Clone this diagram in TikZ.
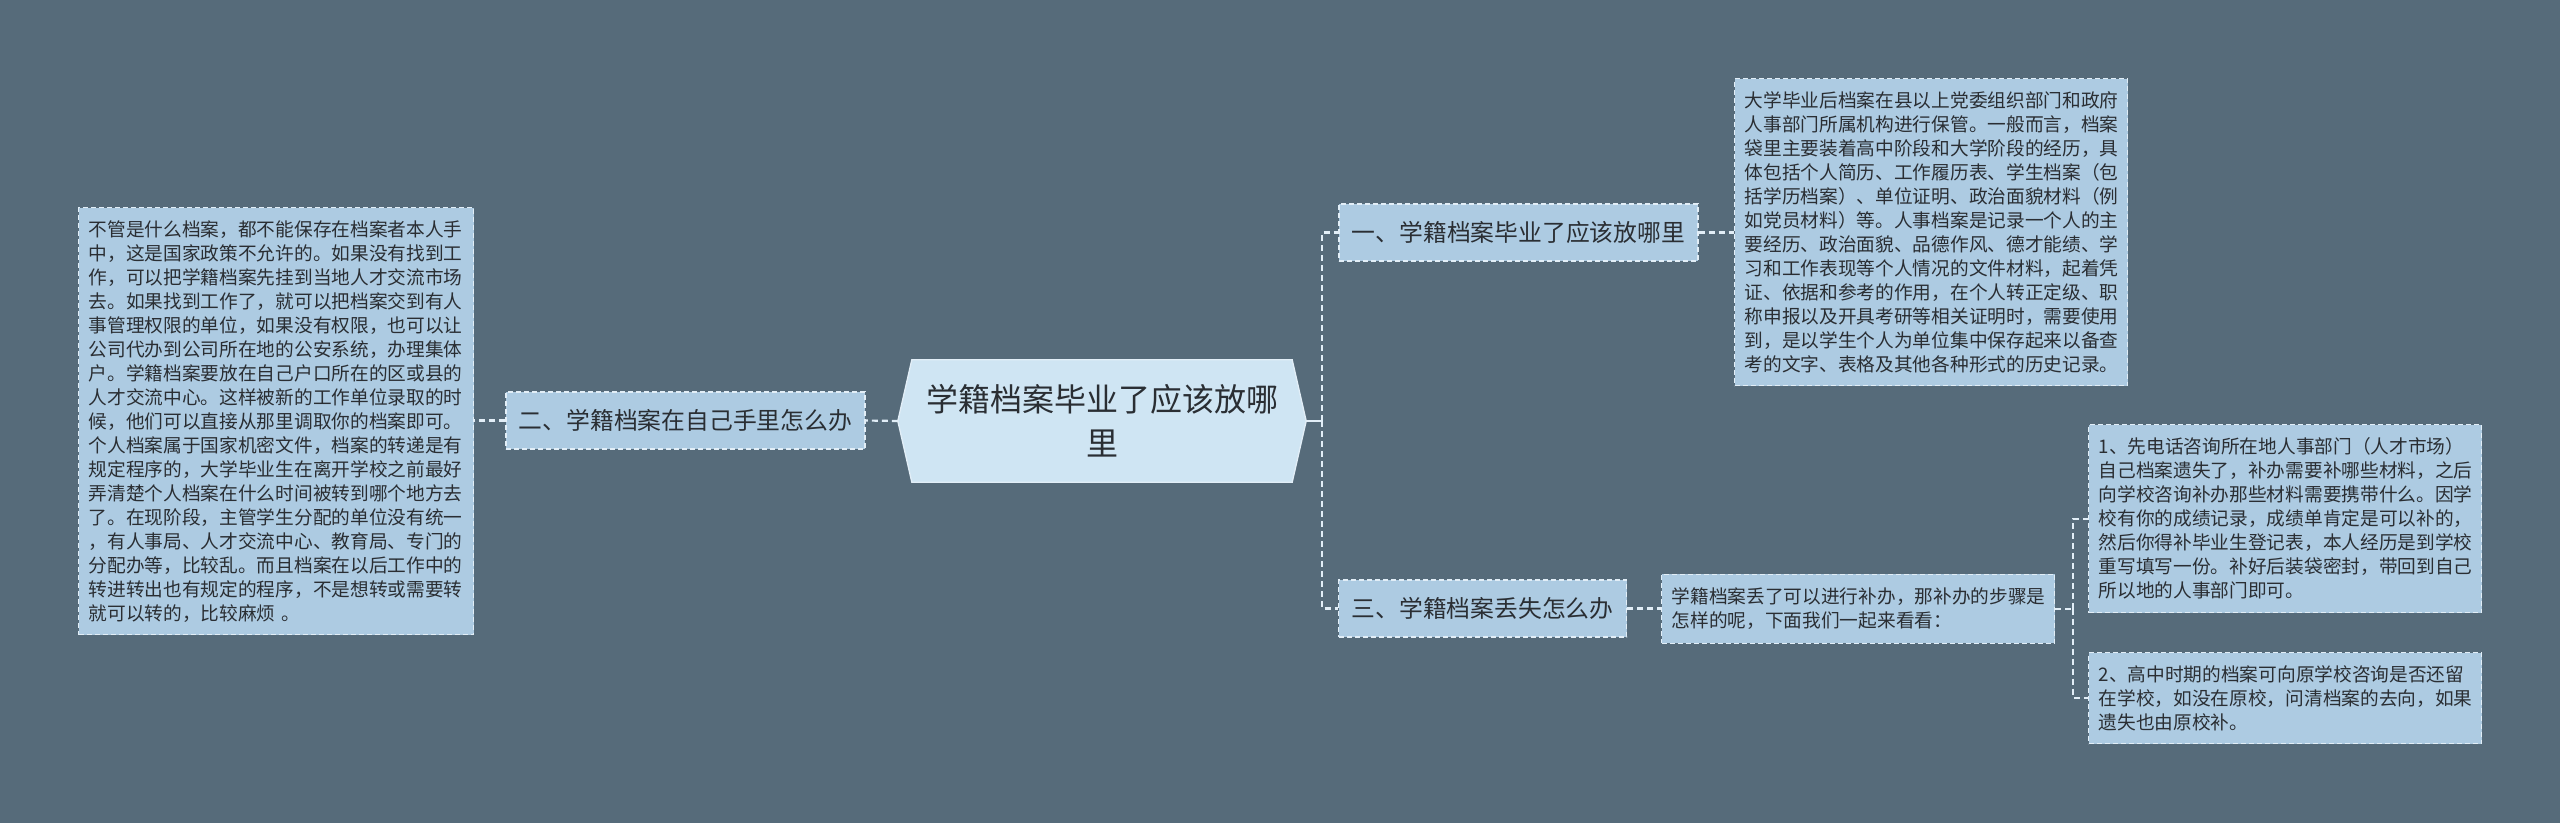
\documentclass[tikz,border=0pt]{standalone}
\usepackage{fontspec}
\setmainfont{Noto Sans CJK SC}
\usetikzlibrary{calc}
\definecolor{bg}{HTML}{566B7A}
\definecolor{boxfill}{HTML}{ADCBE2}
\definecolor{cfill}{HTML}{CFE5F3}
\definecolor{lnc}{HTML}{E2EEF7}
\definecolor{txt}{HTML}{2A2E33}
\begin{document}
\begin{tikzpicture}[x=1pt,y=-1pt,
  box/.style={draw=lnc, fill=boxfill, dash pattern=on 5pt off 3pt, line width=1.3pt,
    anchor=north west, inner xsep=10pt, inner ysep=0pt, align=left, text=txt,
    font=\fontsize{18.7}{24}\selectfont},
  topic/.style={draw=lnc, fill=boxfill, dash pattern=on 5pt off 3pt, line width=1.3pt,
    inner xsep=0pt, inner ysep=0pt, minimum height=57pt, align=center, text=txt,
    font=\fontsize{23.8}{28}\selectfont},
  dashln/.style={draw=lnc, line width=2.2pt, dash pattern=on 6pt off 4pt},
  solidln/.style={draw=lnc, line width=2.6pt}]
\useasboundingbox[fill=bg] (0,0) rectangle (2560,823);

% central topic
\node[minimum width=408pt, minimum height=122pt, inner sep=0pt, align=center, text=txt,
  font=\fontsize{32}{44}\selectfont] (c) at (1102,421) {};
\path[fill=cfill, draw=lnc, line width=1.3pt]
  (c.west) -- ($(c.north west)+(14,0)$) -- ($(c.north east)+(-14,0)$) -- (c.east)
  -- ($(c.south east)+(-14,0)$) -- ($(c.south west)+(14,0)$) -- cycle;
\node[align=center, text=txt, font=\fontsize{32}{44}\selectfont] (ct) at (c.center) {学籍档案毕业了应该放哪\\里};

% main topics
\node[topic, minimum width=359pt] (n1) at (1518.5,232.5) {一、学籍档案毕业了应该放哪里};
\node[topic, minimum width=359pt] (n2) at (685.5,420.5) {二、学籍档案在自己手里怎么办};
\node[topic, minimum width=288pt] (n3) at (1482.5,608.5) {三、学籍档案丢失怎么办};

% detail boxes
\node[box, text width=375pt, minimum height=427pt] (L) at (78,207) {%
不管是什么档案，都不能保存在档案者本人手\\
中，这是国家政策不允许的。如果没有找到工\\
作，可以把学籍档案先挂到当地人才交流市场\\
去。如果找到工作了，就可以把档案交到有人\\
事管理权限的单位，如果没有权限，也可以让\\
公司代办到公司所在地的公安系统，办理集体\\
户。学籍档案要放在自己户口所在的区或县的\\
人才交流中心。这样被新的工作单位录取的时\\
候，他们可以直接从那里调取你的档案即可。\\
个人档案属于国家机密文件，档案的转递是有\\
规定程序的，大学毕业生在离开学校之前最好\\
弄清楚个人档案在什么时间被转到哪个地方去\\
了。在现阶段，主管学生分配的单位没有统一\\
，有人事局、人才交流中心、教育局、专门的\\
分配办等，比较乱。而且档案在以后工作中的\\
转进转出也有规定的程序，不是想转或需要转\\
就可以转的，比较麻烦 。};

\node[box, text width=373pt, minimum height=307pt] (R1) at (1734,78) {%
大学毕业后档案在县以上党委组织部门和政府\\
人事部门所属机构进行保管。一般而言，档案\\
袋里主要装着高中阶段和大学阶段的经历，具\\
体包括个人简历、工作履历表、学生档案（包\\
括学历档案）、单位证明、政治面貌材料（例\\
如党员材料）等。人事档案是记录一个人的主\\
要经历、政治面貌、品德作风、德才能绩、学\\
习和工作表现等个人情况的文件材料，起着凭\\
证、依据和参考的作用，在个人转正定级、职\\
称申报以及开具考研等相关证明时，需要使用\\
到，是以学生个人为单位集中保存起来以备查\\
考的文字、表格及其他各种形式的历史记录。};

\node[box, text width=373pt, minimum height=69pt] (M3) at (1661,573.5) {%
学籍档案丢了可以进行补办，那补办的步骤是\\
怎样的呢，下面我们一起来看看：};

\node[box, text width=373pt, minimum height=188pt] (B1) at (2088,424) {%
1、先电话咨询所在地人事部门（人才市场）\\
自己档案遗失了，补办需要补哪些材料，之后\\
向学校咨询补办那些材料需要携带什么。因学\\
校有你的成绩记录，成绩单肯定是可以补的，\\
然后你得补毕业生登记表，本人经历是到学校\\
重写填写一份。补好后装袋密封，带回到自己\\
所以地的人事部门即可。};

\node[box, text width=373pt, minimum height=91pt] (B2) at (2088,652) {%
2、高中时期的档案可向原学校咨询是否还留\\
在学校，如没在原校，问清档案的去向，如果\\
遗失也由原校补。};

% connectors
\coordinate (jr) at ($(c.east)+(16,0)$);
\draw[dashln] (jr) |- (n1.west);
\draw[dashln] (jr) |- (n3.west);
\draw[solidln] (c.east) -- (jr);
\draw[dashln] (c.west) -- (n2.east);
\draw[dashln] (n2.west) -- (n2.west -| L.east);
\draw[dashln] (n1.east) -- (n1.east -| R1.west);
\draw[dashln] (n3.east) -- (n3.east -| M3.west);
\coordinate (jb) at ($(M3.east)+(18,0)$);
\draw[dashln] (M3.east) -- (jb);
\draw[dashln] (jb) |- (B1.west);
\draw[dashln] (jb) |- (B2.west);
\end{tikzpicture}
\end{document}
